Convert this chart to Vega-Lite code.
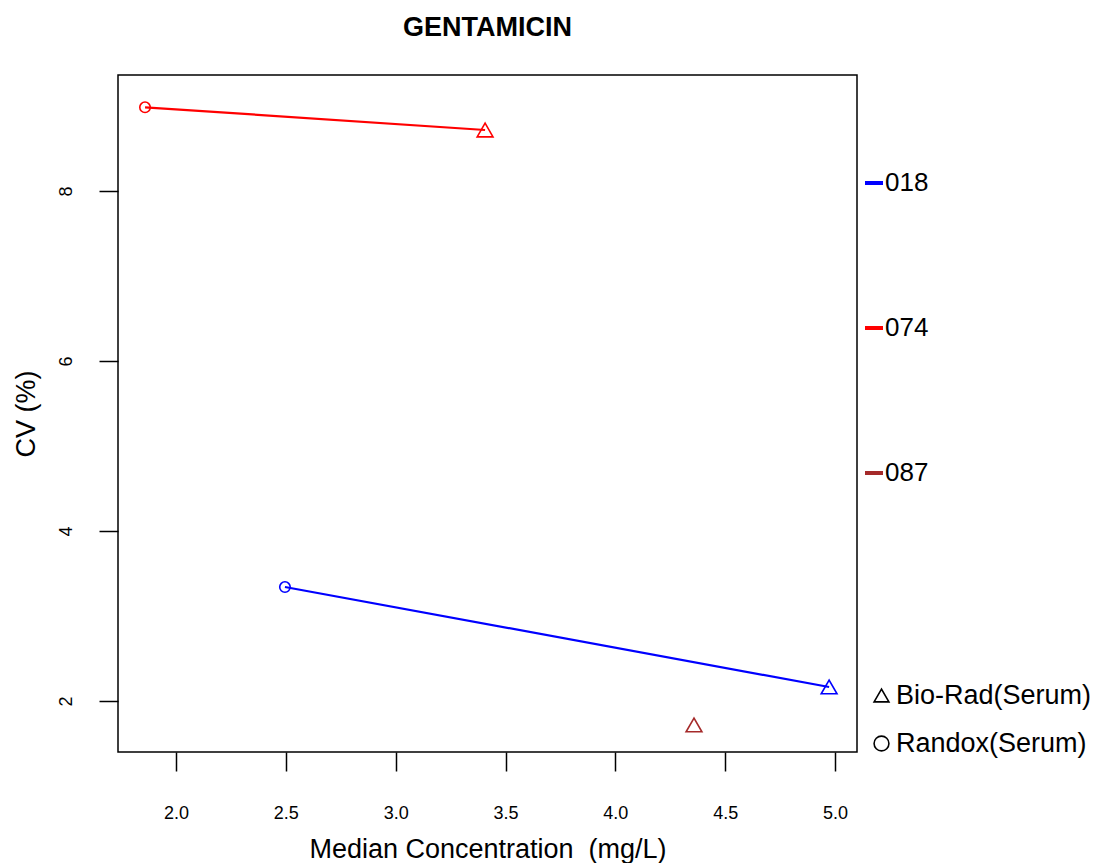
{
  "$schema": "https://vega.github.io/schema/vega-lite/v6.json",
  "autosize": "none",
  "width": 739,
  "height": 677,
  "padding": {"left": 118, "top": 75, "right": 236, "bottom": 111},
  "background": "white",
  "config": {
    "font": "Liberation Sans",
    "view": {"stroke": "black", "strokeWidth": 1.5},
    "axis": {"grid": false, "domain": false, "tickColor": "black", "tickWidth": 1.5, "tickSize": 19, "labelColor": "black", "titleColor": "black", "labelFont": "Liberation Sans", "titleFont": "Liberation Sans", "titleFontWeight": "normal", "labelFontSize": 18, "titleFontSize": 27},
    "legend": {"labelFont": "Liberation Sans", "labelColor": "black", "labelFontSize": 26, "symbolOpacity": 1, "labelLimit": 0}
  },
  "title": {"text": "GENTAMICIN", "fontSize": 27, "fontWeight": "bold", "font": "Liberation Sans", "color": "black", "anchor": "middle", "offset": 33},
  "data": {"values": [
    {"lab": "074", "material": "Randox(Serum)", "conc": 1.859, "cv": 8.985},
    {"lab": "074", "material": "Bio-Rad(Serum)", "conc": 3.407, "cv": 8.718},
    {"lab": "018", "material": "Randox(Serum)", "conc": 2.496, "cv": 3.341},
    {"lab": "018", "material": "Bio-Rad(Serum)", "conc": 4.973, "cv": 2.165},
    {"lab": "087", "material": "Bio-Rad(Serum)", "conc": 4.358, "cv": 1.718}
  ]},
  "encoding": {
    "x": {"field": "conc", "type": "quantitative", "scale": {"domain": [1.736, 5.1], "nice": false, "zero": false},
      "axis": {"title": "Median Concentration\u00a0 (mg/L)", "values": [2, 2.5, 3, 3.5, 4, 4.5, 5], "format": ".1f", "labelPadding": 33, "titlePadding": 14}},
    "y": {"field": "cv", "type": "quantitative", "scale": {"domain": [1.4, 9.365], "nice": false, "zero": false},
      "axis": {"title": "CV (%)", "values": [2, 4, 6, 8], "labelAngle": -90, "labelPadding": 24, "titlePadding": 17}},
    "color": {"field": "lab", "type": "nominal",
      "scale": {"domain": ["018", "074", "087"], "range": ["#0000FF", "#FF0000", "#A52A2A"]},
      "legend": {"title": null, "orient": "none", "legendX": 743, "legendY": 95, "symbolType": "stroke", "symbolSize": 324, "symbolStrokeWidth": 4, "rowPadding": 119, "labelOffset": -2}}
  },
  "layer": [
    {"mark": {"type": "line", "strokeWidth": 2.2, "opacity": 1}, "encoding": {"detail": {"field": "lab"}}},
    {"transform": [{"filter": "datum.material === 'Bio-Rad(Serum)'"}],
     "mark": {"type": "point", "filled": false, "size": 250, "strokeWidth": 1.6, "opacity": 1},
     "encoding": {"shape": {"field": "material", "type": "nominal",
       "scale": {"domain": ["Bio-Rad(Serum)", "Randox(Serum)"], "range": ["triangle-up", "circle"]},
       "legend": {"title": null, "orient": "none", "legendX": 750, "legendY": 607, "symbolStrokeColor": "black", "symbolFillColor": "transparent", "symbolSize": 220, "symbolStrokeWidth": 1.6, "rowPadding": 20, "labelOffset": 1, "labelFontSize": 27}}}},
    {"transform": [{"filter": "datum.material === 'Randox(Serum)'"}],
     "mark": {"type": "point", "filled": false, "size": 110, "strokeWidth": 1.6, "opacity": 1},
     "encoding": {"shape": {"field": "material", "type": "nominal",
       "scale": {"domain": ["Bio-Rad(Serum)", "Randox(Serum)"], "range": ["triangle-up", "circle"]},
       "legend": {"title": null, "orient": "none", "legendX": 750, "legendY": 607, "symbolStrokeColor": "black", "symbolFillColor": "transparent", "symbolSize": 220, "symbolStrokeWidth": 1.6, "rowPadding": 20, "labelOffset": 1, "labelFontSize": 27}}}}
  ]
}
